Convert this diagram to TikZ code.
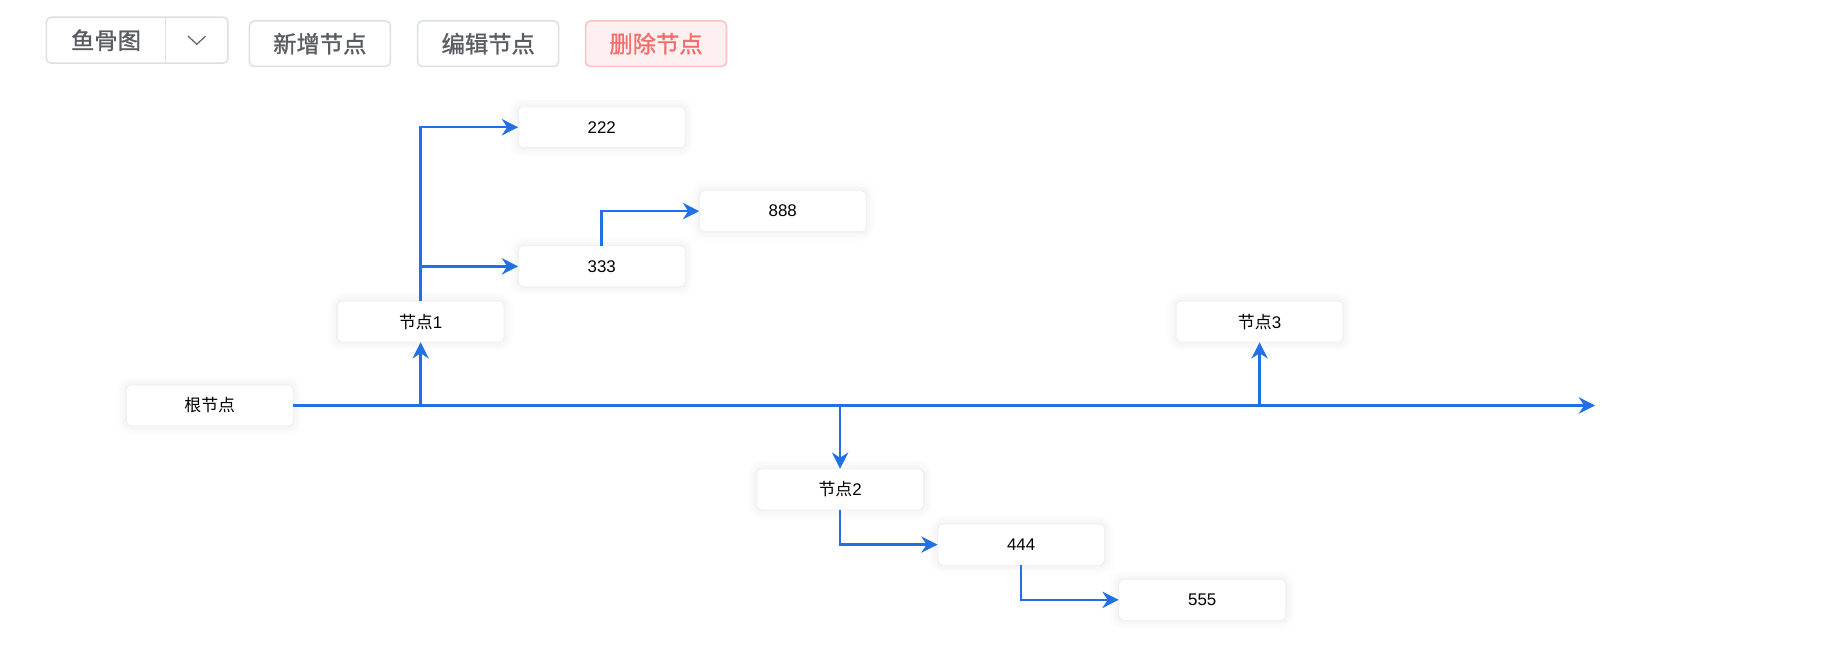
\documentclass[tikz,border=0pt]{standalone}
\usepackage{fontspec}
\setmainfont{Liberation Sans}
\newfontfamily\cjk{Noto Sans CJK SC}
\newfontfamily\cjkbtn{Noto Sans CJK SC}[FakeBold=1.2]
\usepackage{xcolor}
\usepackage{tikz}
\usetikzlibrary{positioning,calc,arrows.meta,shadows.blur}
\definecolor{lineblue}{HTML}{2170E4}
\definecolor{btnborder}{HTML}{DCDFE6}
\definecolor{btntext}{HTML}{5A5C61}
\definecolor{delred}{HTML}{F56C6C}
\definecolor{delfill}{HTML}{FEF0F0}
\definecolor{delborder}{HTML}{FBC4C4}
\begin{document}
\begin{tikzpicture}[x=1pt,y=-1pt,
 nd/.style={draw=black!7,fill=white,rounded corners=4pt,inner sep=0pt,minimum width=143pt,minimum height=35pt,
  font=\fontsize{14.5}{16}\selectfont,
  blur shadow={shadow xshift=0pt,shadow yshift=0pt,shadow blur radius=8pt,shadow opacity=10}},
 btn/.style={draw=btnborder,line width=1.3pt,rounded corners=4pt,inner sep=0pt,minimum width=121pt,minimum height=39pt,
  text=btntext,font=\cjkbtn\fontsize{20}{22}\selectfont},
 ar/.style={-{Stealth[length=14pt,width=14pt]},line width=2.1pt,lineblue}]
\useasboundingbox (0,0) rectangle (1568,560);
% toolbar
\node[inner sep=0pt,minimum width=102pt,minimum height=39pt,text=btntext,font=\cjkbtn\fontsize{20}{22}\selectfont] (sel) at (91,34.5) {鱼骨图};
\node[inner sep=0pt,minimum width=53pt,minimum height=39pt,right=0pt of sel] (selarr) {};
\draw[btnborder,line width=1.3pt,rounded corners=4pt] (sel.north west) rectangle (selarr.south east);
\draw[btnborder,line width=1.3pt] (sel.north east) -- (sel.south east);
\draw[btntext,line width=1pt] ($(selarr.center)+(-7.5,-3.5)$) -- ($(selarr.center)+(0,3.5)$) -- ($(selarr.center)+(7.5,-3.5)$);
\node[btn] (add) at (274.5,37.5) {新增节点};
\node[btn] (edit) at (419,37.5) {编辑节点};
\node[btn,draw=delborder,fill=delfill,text=delred] (del) at (563,37.5) {删除节点};
% fishbone
\node[nd] (root) at (180,348) {\cjk 根节点};
\node[nd] (n1) at (361,276) {{\cjk 节点}1};
\node[nd] (n2) at (721,420) {{\cjk 节点}2};
\node[nd] (n3) at (1081,276) {{\cjk 节点}3};
\node[nd,above right=12pt and 12pt of n1] (n333) {333};
\node[nd,above=84pt of n333] (n222) {222};
\node[nd,above right=12pt and 12pt of n333] (n888) {888};
\node[nd,below right=12pt and 12pt of n2] (n444) {444};
\node[nd,below right=12pt and 12pt of n444] (n555) {555};
\coordinate (spine) at (1369,348);
\draw[ar] (root.east) -- (spine);
\draw[ar] (n1 |- root) -- (n1.south);
\draw[ar] (n2 |- root) -- (n2.north);
\draw[ar] (n3 |- root) -- (n3.south);
\draw[ar] (n1.north) |- (n222.west);
\draw[ar] (n1.north) |- (n333.west);
\draw[ar] (n333.north) |- (n888.west);
\draw[ar] (n2.south) |- (n444.west);
\draw[ar] (n444.south) |- (n555.west);
\end{tikzpicture}
\end{document}
